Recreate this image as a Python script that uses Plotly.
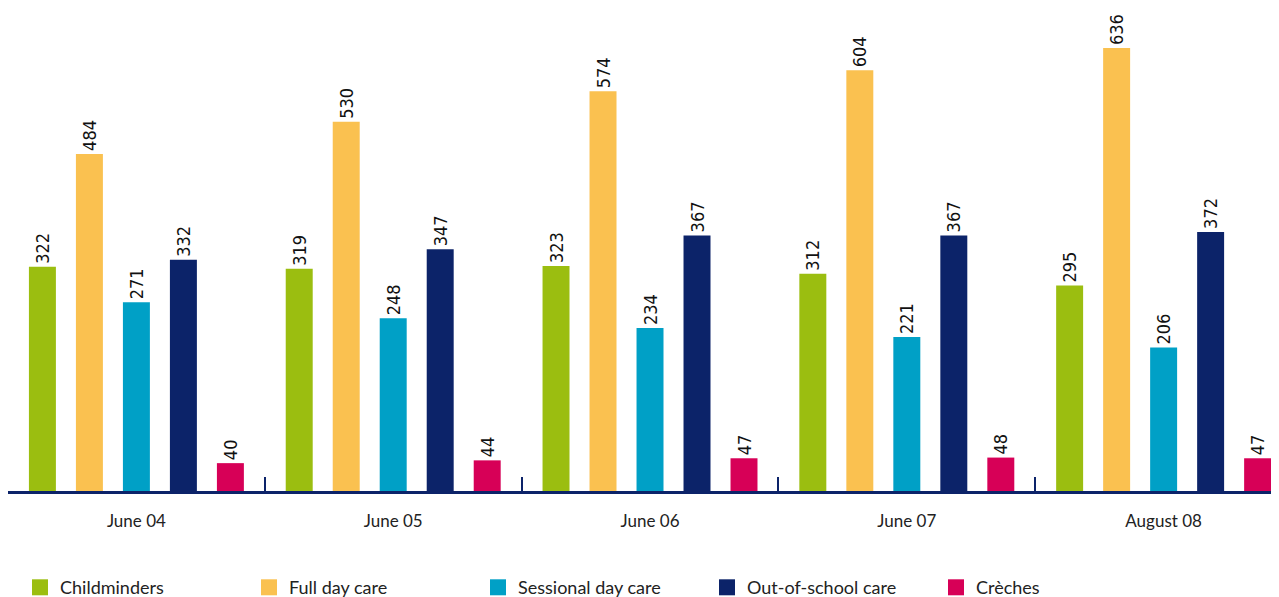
import plotly.graph_objects as go

categories = ["June 04", "June 05", "June 06", "June 07", "August 08"]
series_names = ["Childminders", "Full day care", "Sessional day care", "Out-of-school care", "Crèches"]
childminders = [322, 319, 323, 312, 295]
full_day_care = [484, 530, 574, 604, 636]
sessional_day_care = [271, 248, 234, 221, 206]
out_of_school_care = [332, 347, 367, 367, 372]
creches = [40, 44, 47, 48, 47]

series_values = [childminders, full_day_care, sessional_day_care, out_of_school_care, creches]
colors = ["#9BBE10", "#FAC150", "#00A0C6", "#0C2369", "#D70057"]

fig = go.Figure()
for name, vals, col in zip(series_names, series_values, colors):
    fig.add_trace(go.Bar(
        x=categories, y=vals, name=name, marker_color=col, marker_line_width=0,
        text=[str(v) for v in vals], textposition="outside", textangle=-90,
        textfont=dict(family="DejaVu Sans Condensed", size=18, color="#111111"),
        cliponaxis=False, showlegend=False,
    ))
for name, col in zip(series_names, colors):
    fig.add_trace(go.Scatter(
        x=[None], y=[None], mode="markers", name=name,
        marker=dict(symbol="square", size=18, color=col),
    ))

fig.update_layout(
    width=1271, height=589,
    margin=dict(l=0, r=7, t=0, b=106, autoexpand=False),
    paper_bgcolor="white", plot_bgcolor="white",
    barmode="group", bargap=0.085, bargroupgap=0.426,
    uniformtext=dict(minsize=18, mode="show"),
    xaxis=dict(
        type="category", range=[-0.5, 4.422],
        showline=True, linecolor="#0C2369", linewidth=3,
        ticks="inside", tickson="boundaries", ticklen=14, tickwidth=2, tickcolor="#0C2369",
        tickfont=dict(family="Lato", size=17, color="#222222"),
        ticklabelstandoff=13, showgrid=False, zeroline=False,
    ),
    yaxis=dict(range=[0, 693.5], visible=False, showgrid=False, zeroline=False),
    legend=dict(
        orientation="h", x=0.0095, xanchor="left", y=-0.2, yanchor="middle",
        entrywidth=184, entrywidthmode="pixels",
        font=dict(family="Lato", size=18, color="#222222"),
        itemsizing="trace",
    ),
)

fig.write_html("out.html")
